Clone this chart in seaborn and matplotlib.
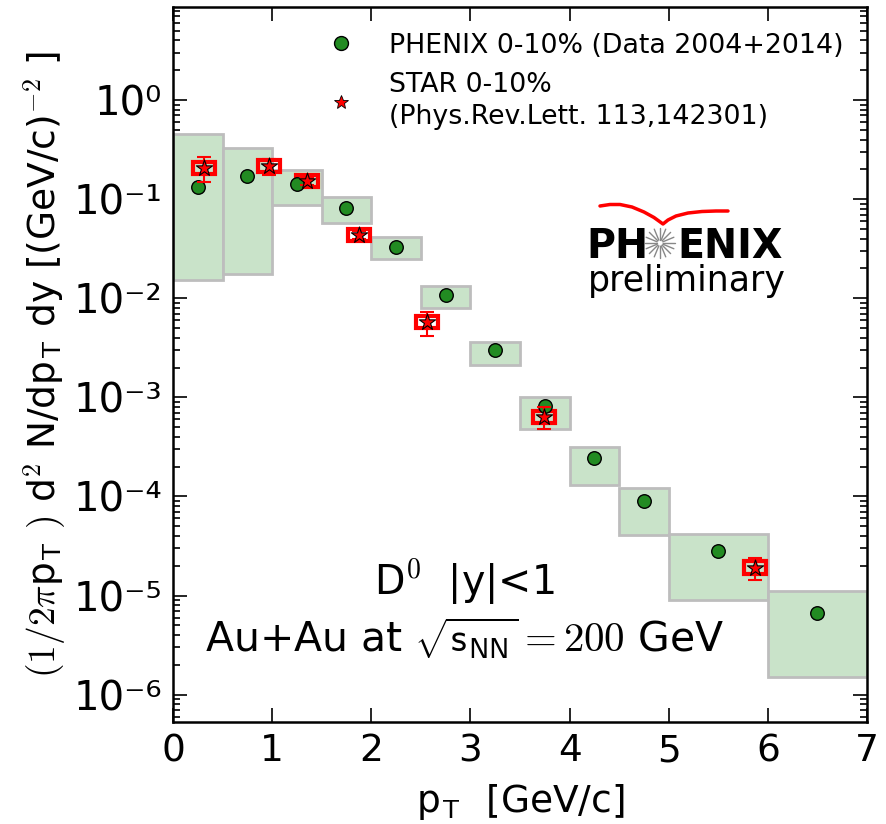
import numpy as np
import matplotlib
matplotlib.use("Agg")
import matplotlib.pyplot as plt
import seaborn as sns
from matplotlib.lines import Line2D

# ---------------- data ----------------
bin_lo = [0.0, 0.5, 1.0, 1.5, 2.0, 2.5, 3.0, 3.5, 4.0, 4.5, 5.0, 6.0]
bin_hi = [0.5, 1.0, 1.5, 2.0, 2.5, 3.0, 3.5, 4.0, 4.5, 5.0, 6.0, 7.0]
phenix_pt = [0.25, 0.75, 1.25, 1.75, 2.25, 2.75, 3.25, 3.75, 4.25, 4.75, 5.5, 6.5]
phenix_y = [0.132, 0.171, 0.142, 0.081, 0.0327, 0.0107, 0.00298, 8.1e-4,
            2.42e-4, 9.1e-5, 2.85e-5, 6.7e-6]
phenix_sys_hi = [0.454, 0.327, 0.196, 0.105, 0.0413, 0.0132, 0.0036, 1.02e-3,
                 3.13e-4, 1.23e-4, 4.23e-5, 1.12e-5]
phenix_sys_lo = [0.0152, 0.0175, 0.087, 0.057, 0.0248, 0.0079, 0.0021, 4.75e-4,
                 1.32e-4, 4.04e-5, 9.1e-6, 1.52e-6]

star_pt = [0.31, 0.97, 1.35, 1.88, 2.56, 3.74, 5.87]
star_y = [0.206, 0.215, 0.152, 0.0433, 0.00575, 6.4e-4, 1.92e-5]
star_err = [0.058, 0.040, 0.012, 0.004, 0.0016, 1.6e-4, 5e-6]

xticks = [0, 1, 2, 3, 4, 5, 6, 7]
yticks = [1e-6, 1e-5, 1e-4, 1e-3, 1e-2, 1e-1, 1e0]
ytick_labels = ["10⁻⁶", "10⁻⁵", "10⁻⁴", "10⁻³", "10⁻²", "10⁻¹", "10⁰"]

# ---------------- style ----------------
sns.set_style("ticks")
plt.rcParams["font.family"] = ["DejaVu Sans"]
plt.rcParams["mathtext.fontset"] = "cm"
for k in ["text.color", "axes.labelcolor", "xtick.color", "ytick.color", "axes.edgecolor"]:
    plt.rcParams[k] = "black"

W, H = 887, 824
fig = plt.figure(figsize=(W / 100, H / 100), dpi=100)
ax = fig.add_axes([173 / W, 1 - 722 / H, (867 - 173) / W, (722 - 7) / H])
ax.set_yscale("log")

lo = np.array(phenix_sys_lo)
hi = np.array(phenix_sys_hi)
blo = np.array(bin_lo)
bhi = np.array(bin_hi)
ax.bar(blo, hi - lo, bottom=lo, width=bhi - blo, align="edge",
       facecolor="#c9e3c9", edgecolor="#bdbdbd", linewidth=2, zorder=1)

sy = np.array(star_y)
f = 1.15
ax.bar(star_pt, sy * f - sy / f, bottom=sy / f, width=0.22, align="center",
       fill=False, edgecolor="red", linewidth=3, zorder=2)

sns.scatterplot(x=phenix_pt, y=phenix_y, ax=ax, color="#228b22",
                edgecolor="black", linewidth=1, s=95, zorder=4, legend=False)

ax.errorbar(star_pt, star_y, yerr=star_err, fmt="none", ecolor="red",
            elinewidth=1.5, capsize=5, capthick=1.5, zorder=5)
sns.scatterplot(x=star_pt, y=star_y, ax=ax, marker="*", color="red",
                edgecolor="black", linewidth=0.8, s=150, zorder=6, legend=False)

ax.set_xlim(0, 7)
ax.set_ylim(5.3e-7, 8.7)
ax.set_xticks(xticks)
ax.set_xticklabels([str(t) for t in xticks], fontsize=27)
ax.set_yticks(yticks)
ax.set_yticklabels(ytick_labels, fontsize=29)
ax.xaxis.set_minor_locator(matplotlib.ticker.NullLocator())
ax.yaxis.set_minor_locator(matplotlib.ticker.LogLocator(base=10, subs=np.arange(2, 10), numticks=20))
ax.tick_params(which="both", direction="in", top=True, right=True, width=1.2)
ax.tick_params(which="major", length=10, pad=8)
ax.tick_params(which="minor", length=5)
ax.yaxis.set_minor_formatter(matplotlib.ticker.NullFormatter())
for sp in ax.spines.values():
    sp.set_linewidth(1.8)
    sp.set_color("black")

ax.set_xlabel(r"p$_{\mathsf{T}}$  [GeV/c]", fontsize=27, labelpad=9)
ax.set_ylabel(r"$(1/2\pi$p$_{\mathsf{T}}$ $)$ d$^2$ N/dp$_{\mathsf{T}}$ dy [(GeV/c)$^{\mathsf{-2}}$ ]",
              fontsize=27, labelpad=4)

handles = [
    Line2D([], [], ls="none", marker="o", markersize=10, markerfacecolor="#228b22",
           markeredgecolor="black", markeredgewidth=1),
    Line2D([], [], ls="none", marker="*", markersize=10, markerfacecolor="red",
           markeredgecolor="black", markeredgewidth=0.6),
]
leg = ax.legend(handles, ["PHENIX 0-10% (Data 2004+2014)",
                          "STAR 0-10%\n(Phys.Rev.Lett. 113,142301)"],
                loc="upper left", bbox_to_anchor=(0.1844, 0.9826), frameon=False,
                fontsize=19.3, borderpad=0, labelspacing=0.5, handlelength=2.0,
                handletextpad=0.8)
for t in leg.get_texts():
    t.set_linespacing(1.3)

ax.text(0.42, 0.195, r"D$^{0}$  |y|<1", transform=ax.transAxes, ha="center",
        va="center", fontsize=28.5)
ax.text(0.42, 0.117, r"Au+Au at $\sqrt{\mathsf{s}_{\mathsf{NN}}}=200$ GeV",
        transform=ax.transAxes, ha="center", va="center", fontsize=29.5)

# PHENIX preliminary logo (decoration)
def fx(px):
    return px / W

def fy(py):
    return 1 - py / H

fig.text(fx(586), fy(258), "PH", fontsize=28.5, fontweight="bold", ha="left", va="baseline")
fig.text(fx(677), fy(258), "ENIX", fontsize=28.5, fontweight="bold", ha="left", va="baseline")
fig.text(fx(687), fy(291), "preliminary", fontsize=25, ha="center", va="baseline")
cx, cy = 660, 243
for ang in np.linspace(0, 2 * np.pi, 16, endpoint=False):
    x0, y0 = cx + 3 * np.cos(ang), cy + 3 * np.sin(ang)
    x1, y1 = cx + 15 * np.cos(ang), cy + 15 * np.sin(ang)
    fig.add_artist(Line2D([fx(x0), fx(x1)], [fy(y0), fy(y1)], color="#888888", lw=1.0))
sw_x = [600, 610, 620, 632, 644, 654, 663, 668, 676, 688, 702, 716, 728]
sw_y = [206, 204.5, 204.5, 207, 212, 217.5, 224, 220, 216, 213, 211.5, 211, 211]
fig.add_artist(Line2D([fx(v) for v in sw_x], [fy(v) for v in sw_y], color="red",
                      lw=2.5, solid_capstyle="round", solid_joinstyle="round"))

fig.savefig("out.png", dpi=100)
